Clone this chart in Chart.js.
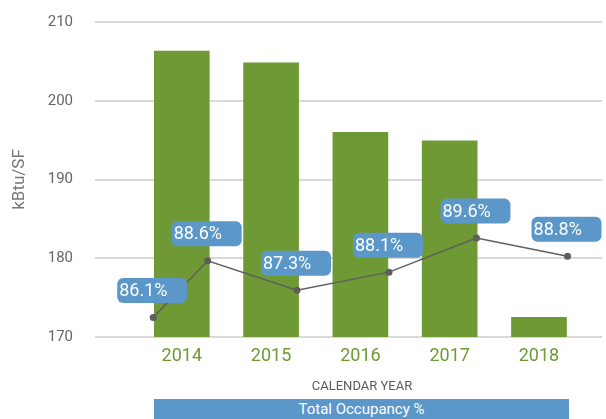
<!DOCTYPE html>
<html>
<head>
<meta charset="utf-8">
<script src="https://cdn.jsdelivr.net/npm/chart.js@4.4.1/dist/chart.umd.min.js"></script>
<style>
  body { margin: 0; background: #fff; font-family: Roboto, sans-serif; }
  #wrap { position: relative; width: 606px; height: 419px; }
  #xTitle { position: absolute; left: 262px; width: 200px; top: 378px; text-align: center; font-size: 13px; color: #5a5a5a; }
  #band { position: absolute; left: 154px; width: 415px; top: 399px; height: 20px; background: #5b97c9; color: #fff; text-align: center; font-size: 15px; line-height: 21px; }
</style>
</head>
<body>
<div id="wrap">
  <canvas id="energyChart"></canvas>
  <div id="xTitle">CALENDAR YEAR</div>
  <div id="band">Total Occupancy %</div>
</div>
<script>
const years = [2014, 2015, 2016, 2017, 2018];
const energyUse = [206.3, 204.8, 196.0, 194.9, 172.5];

// occupancy markers sit off the bar centres in the original
const occupancyAt = [2013.68, 2014.29, 2015.29, 2016.32, 2017.3, 2018.32];
const occupancy = [86.1, 88.6, 87.3, 88.1, 89.6, 88.8];

const yTicks = [170, 180, 190, 200, 210];

const labelBoxes = {
    id: 'labelBoxes',
    afterDatasetsDraw(chart) {
        const ctx = chart.ctx;
        const meta = chart.getDatasetMeta(1);
        ctx.save();
        meta.data.forEach((pt, i) => {
            const w = 70, h = 25;
            const bx = pt.x - w / 2 - 1;
            const by = pt.y - 27 - h / 2;
            ctx.fillStyle = '#5b97c9';
            ctx.beginPath();
            ctx.roundRect(bx, by, w, h, 6);
            ctx.fill();
            ctx.fillStyle = '#ffffff';
            ctx.font = '18px Roboto';
            ctx.textAlign = 'left';
            ctx.textBaseline = 'middle';
            ctx.fillText(occupancy[i].toFixed(1) + '%', bx + 2, by + h / 2 + 1);
        });
        ctx.restore();
    }
};

new Chart(document.getElementById('energyChart'), {
    type: 'bar',
    data: {
        datasets: [{
            type: 'bar',
            data: years.map((y, i) => ({ x: y, y: energyUse[i] })),
            backgroundColor: '#6f9934',
            barThickness: 55,
            yAxisID: 'y',
            order: 2
        }, {
            type: 'line',
            data: occupancyAt.map((x, i) => ({ x: x, y: occupancy[i] })),
            borderColor: '#5e5e5e',
            borderWidth: 1.5,
            pointRadius: 3.5,
            pointBackgroundColor: '#5e5e5e',
            pointBorderWidth: 0,
            yAxisID: 'y2',
            order: 1
        }]
    },
    options: {
        responsive: true,
        maintainAspectRatio: false,
        animation: false,
        layout: { padding: { top: 22, left: 0, right: 0, bottom: 0 } },
        plugins: { legend: { display: false }, tooltip: { enabled: false } },
        scales: {
            x: {
                type: 'linear',
                offset: false,
                min: 2013.028,
                max: 2018.706,
                afterBuildTicks: s => { s.ticks = years.map(v => ({ value: v })); },
                afterFit: s => { s.height = 82; },
                grid: { display: false, offset: false },
                border: { display: false },
                ticks: {
                    callback: v => String(v),
                    color: '#6f9934',
                    font: { family: 'Roboto', size: 18 },
                    padding: 1,
                    maxRotation: 0
                }
            },
            y: {
                min: 170,
                max: 210,
                afterBuildTicks: s => { s.ticks = yTicks.map(v => ({ value: v })); },
                afterFit: s => { s.width = 95; s.paddingTop = 0; s.paddingBottom = 0; },
                grid: { color: '#d9d9d9', lineWidth: 2, drawTicks: false },
                border: { display: false },
                ticks: { color: '#666', font: { family: 'Roboto', size: 15 }, padding: 22 },
                title: {
                    display: true,
                    text: 'kBtu/SF',
                    color: '#777',
                    font: { family: 'Roboto', size: 17 },
                    padding: { top: 10, bottom: 0 }
                }
            },
            y2: {
                position: 'right',
                display: false,
                min: 85.24,
                max: 99.13
            }
        }
    },
    plugins: [labelBoxes]
});
</script>
</body>
</html>
